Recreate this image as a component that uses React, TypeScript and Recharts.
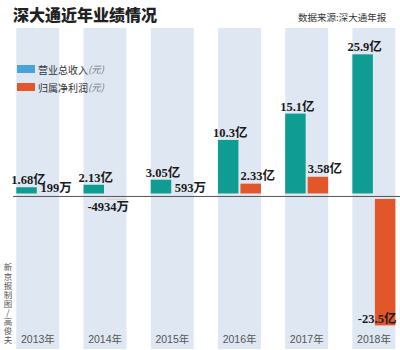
import { Bar, BarChart, LabelList, Legend, ReferenceLine, XAxis, YAxis } from "recharts";

const YEARS = ["2013年", "2014年", "2015年", "2016年", "2017年", "2018年"];
const REVENUE = [1.68, 2.13, 3.05, 10.3, 15.1, 25.9]; // 亿元
const PROFIT = [0.0199, -0.4934, 0.0593, 2.33, 3.58, -23.5]; // 亿元
const REVENUE_LABELS = ["1.68亿", "2.13亿", "3.05亿", "10.3亿", "15.1亿", "25.9亿"];
const PROFIT_LABELS = ["199万", "-4934万", "593万", "2.33亿", "3.58亿", "-23.5亿"];
const CREDIT = "新京报制图/高俊夫";

const data = YEARS.map((year, i) => ({
  year,
  revenue: REVENUE[i],
  profit: PROFIT[i],
  revenueLabel: REVENUE_LABELS[i],
  profitLabel: PROFIT_LABELS[i],
}));

const TEAL = "#0f9d93";
const ORANGE = "#e1572a";
const COLUMN = "#dfe7f3";
const LEGEND_ORDER = ["revenue", "profit"];
const LEGEND_SWATCH: Record<string, string> = { revenue: "#4aa2da", profit: ORANGE };

const BAR_SIZE = 20.5;
const BAR_GAP = 2;
const SANS = "'Noto Sans CJK SC', 'Noto Sans', sans-serif";
const SERIF = "'Liberation Serif', 'DejaVu Serif', 'Noto Sans CJK SC', serif";

// bars stop a few px short of the zero line, like the print version
function gappedBar(key: "revenue" | "profit") {
  return (p: any) => {
    const top = Math.min(p.y, p.y + p.height);
    const bottom = Math.max(p.y, p.y + p.height);
    const neg = p.payload[key] < 0;
    const y0 = neg ? top + 2.5 : top;
    const y1 = neg ? bottom : bottom - 3;
    if (y1 - y0 <= 0) return <g />;
    return <rect x={p.x} y={y0} width={p.width} height={y1 - y0} fill={p.fill} />;
  };
}

function valueLabel(dx: number, dy: number) {
  return (p: any) => {
    const text = String(p.value);
    const top = Math.min(p.y, p.y + p.height);
    const bottom = Math.max(p.y, p.y + p.height);
    const cx = p.x + p.width / 2;
    let tx = cx + dx;
    let ty = top - dy;
    if (text.startsWith("-")) {
      tx = cx - 8;
      ty = bottom - top > 30 ? bottom - 2 : bottom + 12;
    }
    return (
      <text x={tx} y={ty} textAnchor="middle" fontSize={12.5} fontWeight="bold" fontFamily={SERIF} fill="#1a1a1a">
        {text}
      </text>
    );
  };
}

function LegendBox(props: any) {
  const items = [...(props.payload || [])].sort(
    (a: any, b: any) => LEGEND_ORDER.indexOf(a.dataKey) - LEGEND_ORDER.indexOf(b.dataKey)
  );
  return (
    <div style={{ fontFamily: SANS, fontSize: 10, color: "#333" }}>
      {items.map((e: any) => (
        <div key={e.dataKey} style={{ display: "flex", alignItems: "center", height: 18 }}>
          <span style={{ display: "inline-block", width: 18, height: 8, background: LEGEND_SWATCH[e.dataKey], marginRight: 3 }} />
          <span>{e.value}</span>
          <span style={{ fontStyle: "italic", color: "#777", fontSize: 9.5 }}>(元)</span>
        </div>
      ))}
    </div>
  );
}

export default function App() {
  return (
    <div style={{ position: "relative", width: 400, height: 350, overflow: "hidden", background: "#fff" }}>
      <style>{"body{margin:0}"}</style>
      <BarChart
        width={410}
        height={350}
        data={data}
        margin={{ top: 28, right: 2.4, left: 4.3, bottom: 0 }}
        barSize={BAR_SIZE}
        barGap={BAR_GAP}
      >
        <YAxis hide domain={[-27.8, 30.7]} allowDataOverflow />
        <Legend
          content={LegendBox}
          layout="vertical"
          align="center"
          verticalAlign="middle"
          wrapperStyle={{ position: "absolute", top: 60, left: 17, width: "auto" }}
        />
        <Bar
          dataKey="revenue"
          name="营业总收入"
          fill={TEAL}
          isAnimationActive={false}
          shape={gappedBar("revenue")}
          background={(p: any) => (
            <rect key={`bg-${p.index}`} x={p.x} y={p.y} width={p.width * 2 + BAR_GAP} height={p.height} fill={COLUMN} />
          )}
        >
          <LabelList dataKey="revenueLabel" content={valueLabel(2, 3)} />
        </Bar>
        <Bar dataKey="profit" name="归属净利润" fill={ORANGE} isAnimationActive={false} shape={gappedBar("profit")}>
          <LabelList dataKey="profitLabel" content={valueLabel(7, 4)} />
        </Bar>
        <ReferenceLine
          y={0}
          shape={(p: any) => <line x1={p.x1 + 8.7} y1={p.y1} x2={p.x2} y2={p.y2} stroke="#555" strokeWidth={1} />}
        />
        <XAxis
          dataKey="year"
          height={1}
          axisLine={false}
          tickLine={false}
          interval={0}
          tick={(p: any) => (
            <text x={p.x} y={p.y - 14} textAnchor="middle" fontSize={10.5} fontFamily="'Liberation Sans', Arial, 'Noto Sans CJK SC', sans-serif" fill="#555">
              {p.payload.value}
            </text>
          )}
        />
      </BarChart>
      <div style={{ position: "absolute", left: 13, top: 4, fontFamily: SANS, fontWeight: 900, fontSize: 16, lineHeight: "20px", color: "#222" }}>
        深大通近年业绩情况
      </div>
      <div style={{ position: "absolute", left: 298, top: 11, fontFamily: SANS, fontSize: 9.5, lineHeight: "12px", color: "#333" }}>
        数据来源:深大通年报
      </div>
      <div
        style={{
          position: "absolute", left: 3, top: 263, writingMode: "vertical-rl", textOrientation: "upright",
          fontFamily: SANS, fontSize: 8.5, lineHeight: "10px", letterSpacing: 0.6, color: "#555",
        }}
      >
        {CREDIT}
      </div>
    </div>
  );
}
